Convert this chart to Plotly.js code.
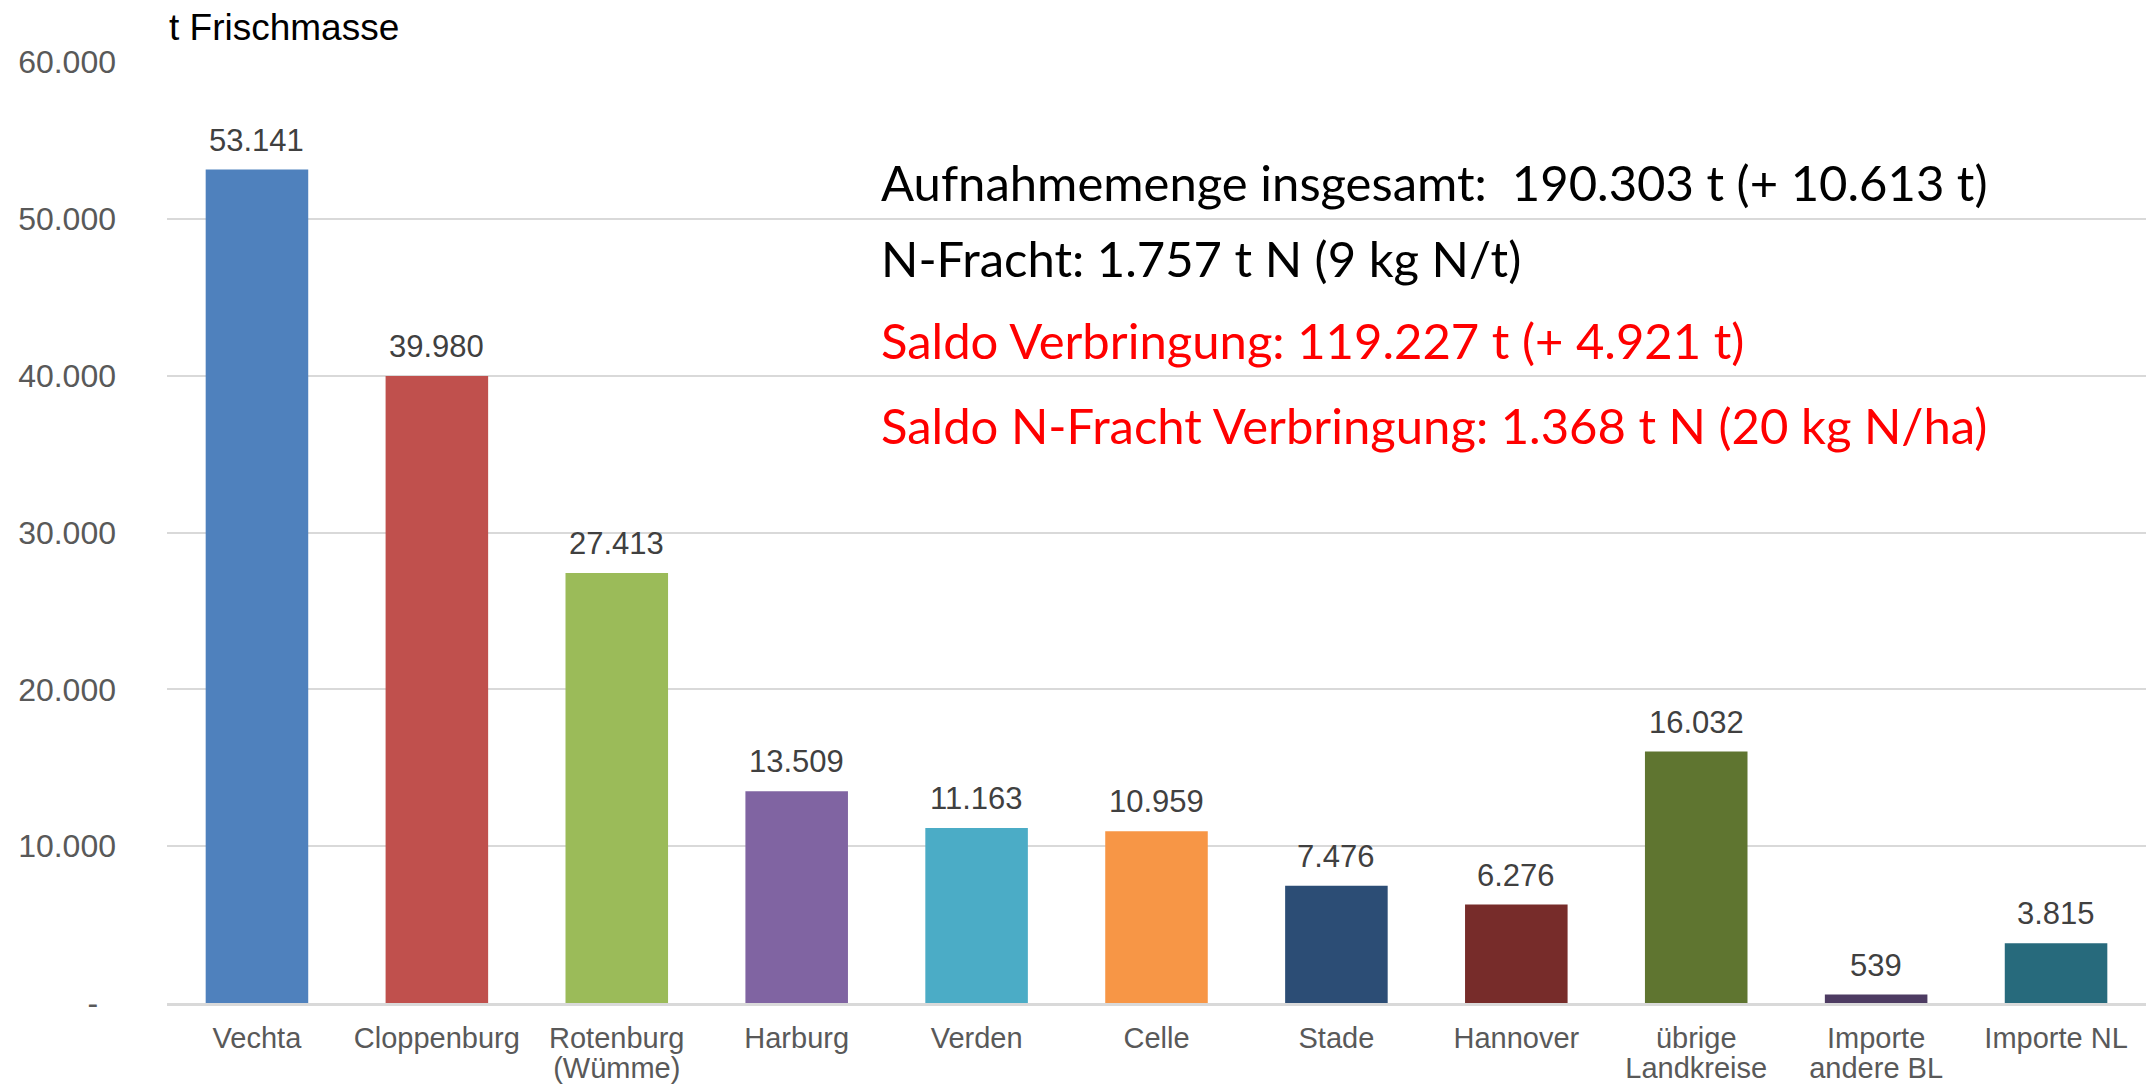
<!DOCTYPE html>
<html>
<head>
<meta charset="utf-8">
<script src="https://cdn.plot.ly/plotly-3.0.1.min.js"></script>
<style>html,body{margin:0;padding:0;background:#fff;}#chart{width:2151px;height:1084px;}</style>
</head>
<body>
<div id="chart"></div>
<script>
const categories = ["Vechta", "Cloppenburg", "Rotenburg<br>(Wümme)", "Harburg", "Verden", "Celle", "Stade", "Hannover", "übrige<br>Landkreise", "Importe<br>andere BL", "Importe NL"];
const values = [53141, 39980, 27413, 13509, 11163, 10959, 7476, 6276, 16032, 539, 3815];
const valueLabels = ["53.141", "39.980", "27.413", "13.509", "11.163", "10.959", "7.476", "6.276", "16.032", "539", "3.815"];
const barColors = ["#4F81BD", "#C0504D", "#9BBB59", "#8064A2", "#4BACC6", "#F79646", "#2C4D75", "#772C2A", "#5F7530", "#4D3B62", "#276A7C"];
const yTickVals = [0, 10000, 20000, 30000, 40000, 50000, 60000];
const yTickText = ["-\u00a0\u00a0", "10.000", "20.000", "30.000", "40.000", "50.000", "60.000"];
const infoLines = [
  {text: "Aufnahmemenge insgesamt:\u00a0\u00a0190.303 t (+ 10.613 t)", color: "#000000"},
  {text: "N-Fracht: 1.757 t N (9 kg N/t)", color: "#000000"},
  {text: "Saldo Verbringung: 119.227 t (+ 4.921 t)", color: "#FF0000"},
  {text: "Saldo N-Fracht Verbringung: 1.368 t N (20 kg N/ha)", color: "#FF0000"}
];
const infoY = [0.8725, 0.7917, 0.7046, 0.6142];

const gray = "#595959";
const baseFont = "Liberation Sans, Arial, sans-serif";
const calFont = "Lato, sans-serif";

const trace = {
  type: "bar",
  x: categories,
  y: values,
  marker: {color: barColors},
  hoverinfo: "x+y"
};

const annotations = infoLines.map((l, i) => ({
  xref: "paper", yref: "paper", x: 0.36, y: infoY[i],
  xanchor: "left", yanchor: "middle", showarrow: false,
  text: l.text, font: {family: calFont, size: 49, color: l.color}
}));
annotations.push({
  xref: "paper", yref: "paper", x: 0, y: 1, xanchor: "left", yanchor: "bottom",
  yshift: 12, showarrow: false, text: "t Frischmasse",
  font: {family: baseFont, size: 37, color: "#000000"}
});
categories.forEach((c, i) => {
  annotations.push({
    xref: "x", yref: "y", x: c, y: values[i], xanchor: "center", yanchor: "bottom",
    yshift: 10, showarrow: false, text: valueLabels[i],
    font: {family: baseFont, size: 31, color: "#404040"}
  });
});

const layout = {
  width: 2151, height: 1084,
  margin: {l: 167, r: 5, t: 62, b: 81},
  paper_bgcolor: "#ffffff", plot_bgcolor: "#ffffff",
  bargap: 0.43,
  showlegend: false,
  font: {family: baseFont, color: gray},
  xaxis: {
    type: "category",
    showgrid: false, showline: true, linecolor: "#d9d9d9", linewidth: 3,
    ticks: "", tickfont: {family: baseFont, size: 29, color: gray},
    ticklabelstandoff: 7, zeroline: false
  },
  yaxis: {
    range: [0, 60000], tickvals: yTickVals, ticktext: yTickText,
    showgrid: true, gridcolor: "#d9d9d9", gridwidth: 2,
    zeroline: false, ticks: "", ticklabelstandoff: 50,
    tickfont: {family: baseFont, size: 32, color: gray}
  },
  annotations: annotations
};

Plotly.newPlot("chart", [trace], layout, {displayModeBar: false, staticPlot: true}).then(gd => {
  // tighter line spacing for two-line category labels, as in the reference
  gd.querySelectorAll(".xtick text tspan.line").forEach(ts => {
    if (ts.getAttribute("dy") && ts.getAttribute("dy") !== "0em") {
      ts.setAttribute("dy", "1.05em");
    }
  });
});
</script>
</body>
</html>
